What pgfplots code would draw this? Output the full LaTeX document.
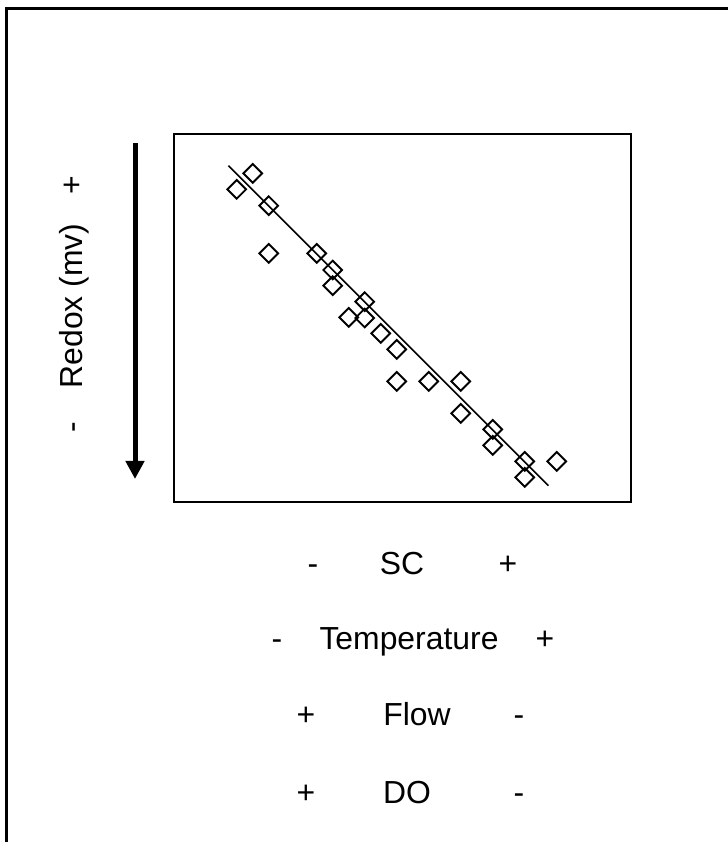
\documentclass[border=0pt]{standalone}
\usepackage{pgfplots}
\pgfplotsset{compat=1.18}
\usepackage{fontspec}
\setmainfont{Liberation Sans}
\usetikzlibrary{arrows.meta}
\begin{document}
\begin{tikzpicture}[x=1bp,y=1bp,font=\fontsize{32}{38}\selectfont]
\useasboundingbox (0,0) rectangle (728,842);
\draw[line width=3bp] (6,0) -- (6,833.5) -- (728,833.5);
\begin{axis}[
  at={(174bp,340bp)}, anchor=south west,
  width=457bp, height=368bp, scale only axis,
  xmin=0, xmax=28.5625, ymin=0, ymax=23,
  axis line style={line width=2bp},
  xtick=\empty, ytick=\empty,
  clip=false,
]
\addplot[black, line width=1.6bp, mark=none] coordinates {(3.40,21.02) (23.40,1.02)};
\addplot[only marks, mark=square, mark size=6.6bp, mark options={rotate=45, line width=1.9bp, black, fill=none}] coordinates {
(3.92,19.54) (4.92,20.54) (5.92,18.52) (5.92,15.54) (8.92,15.54)
(9.92,14.5) (9.92,13.52) (11.92,12.52) (10.92,11.54) (11.92,11.5)
(12.92,10.54) (13.92,9.54) (13.92,7.54) (15.92,7.54) (17.92,7.54)
(17.92,5.54) (19.92,4.54) (19.92,3.54) (21.92,2.54) (21.92,1.54)
(23.92,2.54)
};
\end{axis}
\draw[line width=5bp, -{Triangle[width=18bp,length=18bp]}] (135,699) -- (135,363);
\node[rotate=90, anchor=base, inner sep=0] at (82,536) {Redox (mv)};
\node[rotate=90, anchor=base, inner sep=0] at (82,657) {+};
\node[rotate=90, anchor=base, inner sep=0] at (82,415) {-};
\node[anchor=base, inner sep=0] at (313,267) {-};
\node[anchor=base, inner sep=0] at (402,267) {SC};
\node[anchor=base, inner sep=0] at (508,267) {+};
\node[anchor=base, inner sep=0] at (277,192) {-};
\node[anchor=base, inner sep=0] at (409,192) {Temperature};
\node[anchor=base, inner sep=0] at (545,192) {+};
\node[anchor=base, inner sep=0] at (306,116) {+};
\node[anchor=base, inner sep=0] at (417,116) {Flow};
\node[anchor=base, inner sep=0] at (519,116) {-};
\node[anchor=base, inner sep=0] at (306,38) {+};
\node[anchor=base, inner sep=0] at (407,38) {DO};
\node[anchor=base, inner sep=0] at (519,38) {-};
\end{tikzpicture}
\end{document}
